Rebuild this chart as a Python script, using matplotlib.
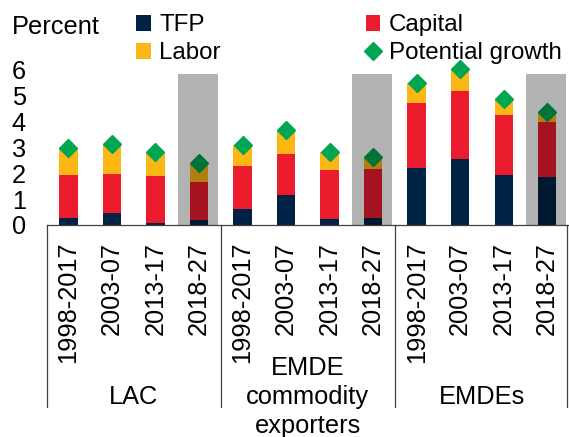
import matplotlib
matplotlib.use("Agg")
import matplotlib.pyplot as plt
import matplotlib.transforms as mtransforms
import numpy as np

plt.rcParams['font.family'] = ['Liberation Sans', 'DejaVu Sans']

# data
periods = ["1998-2017", "2003-07", "2013-17", "2018-27"] * 3
groups = ["LAC", "EMDE\ncommodity\nexporters", "EMDEs"]
tfp = [0.26, 0.48, 0.08, 0.18, 0.60, 1.15, 0.22, 0.28, 2.21, 2.55, 1.92, 1.84]
capital = [1.66, 1.50, 1.80, 1.47, 1.66, 1.57, 1.89, 1.87, 2.48, 2.61, 2.33, 2.13]
labor = [1.03, 1.14, 0.92, 0.75, 0.83, 0.93, 0.69, 0.45, 0.77, 0.83, 0.61, 0.38]
potential = [2.95, 3.12, 2.80, 2.40, 3.09, 3.65, 2.80, 2.60, 5.46, 5.99, 4.86, 4.35]
forecast = [3, 7, 11]      # shaded 2018-27 columns
shade_top = 5.8

c_tfp = "#002345"
c_cap = "#EB1C2D"
c_lab = "#FDB714"
c_pot = "#00A651"
line_c = "#404040"
fs = 18.3

fig = plt.figure(figsize=(5.69, 4.37), dpi=100)
ax = fig.add_axes([46.6 / 569, 212 / 437, 1 - 46.6 / 569, 163 / 437])

x = np.arange(len(periods))
w = 0.42
tfp_a = np.array(tfp)
cap_a = np.array(capital)
ax.bar(x, tfp, w, color=c_tfp, label="TFP", zorder=2)
ax.bar(x, capital, w, bottom=tfp_a, color=c_cap, label="Capital", zorder=2)
ax.bar(x, labor, w, bottom=tfp_a + cap_a, color=c_lab, label="Labor", zorder=2)
ax.plot(x, potential, linestyle="none", marker="D", markersize=9,
        color=c_pot, label="Potential growth", zorder=3, clip_on=False)

# dark translucent overlay on forecast columns
fx = np.array(forecast)
ax.bar(fx - 0.025, [shade_top] * len(fx), 0.93, color="black", alpha=0.3,
       zorder=4, linewidth=0)

ax.set_xlim(-0.5, len(periods) - 0.5)
ax.set_ylim(0, 6.27)
ax.set_yticks(range(0, 7))
ax.set_xticks(x)
ax.set_xticklabels(periods, rotation=90)
ax.tick_params(axis="both", length=0, labelsize=fs)
ax.tick_params(axis="x", pad=12)
ax.tick_params(axis="y", pad=15)
for s in ["left", "right", "top"]:
    ax.spines[s].set_visible(False)
ax.spines["bottom"].set_color(line_c)
ax.spines["bottom"].set_linewidth(0.9)

# group separators below the axis
trans = mtransforms.blended_transform_factory(ax.transData, fig.transFigure)
for xv in [-0.5, 3.5, 7.5, 11.45]:
    ax.plot([xv, xv], [212 / 437, 30 / 437], color=line_c, lw=0.9,
            transform=trans, clip_on=False)
for i, g in enumerate(groups):
    ax.text(i * 4 + 1.5, 40 / 437, g, transform=trans, ha="center",
            va="center", fontsize=fs, linespacing=1.25)

fig.text(12 / 569, 1 - 27 / 437, "Percent", fontsize=fs, va="center", ha="left")

h, l = ax.get_legend_handles_labels()
order = [l.index("TFP"), l.index("Labor"), l.index("Capital"), l.index("Potential growth")]
fig.legend([h[i] for i in order], [l[i] for i in order], ncol=2,
           loc="upper left", bbox_to_anchor=(134 / 569, 1 - 12 / 437),
           frameon=False, fontsize=17.4, handlelength=0.6, handleheight=0.6,
           handletextpad=0.35, columnspacing=6.0, labelspacing=0.25,
           borderpad=0.1, borderaxespad=0)

fig.savefig("out.png", dpi=100)
